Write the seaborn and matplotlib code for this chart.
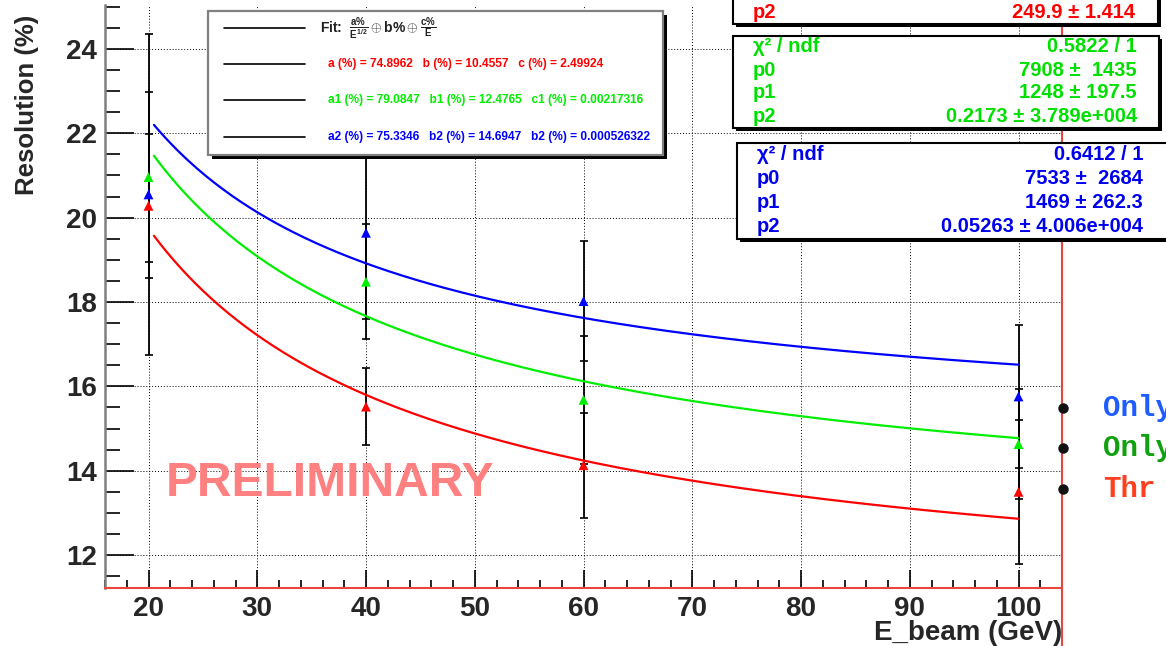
import numpy as np
import pandas as pd
import matplotlib
matplotlib.use("Agg")
import matplotlib.pyplot as plt
import seaborn as sns
from matplotlib.patches import Rectangle
from matplotlib.lines import Line2D
from matplotlib.ticker import MultipleLocator

# ---------------- data ----------------
energies = [20, 40, 60, 100]
series_names = ["red", "green", "blue"]
res_red = [20.28, 15.52, 14.13, 13.50]
err_red = [1.71, 0.92, 1.25, 1.70]
res_green = [20.96, 18.48, 15.68, 14.63]
err_green = [2.02, 1.36, 1.52, 1.30]
res_blue = [20.55, 19.64, 18.02, 15.76]
err_blue = [3.80, 2.05, 1.43, 1.69]

# fit parameters shown in the chart (a%/sqrt(E) (+) b% (+) c%/E)
fit_a = [74.8962, 79.0847, 75.3346]
fit_b = [10.4557, 12.4765, 14.6947]
fit_c = [2.49924, 0.00217316, 0.000526322]
fit_range = [20.5, 100]

x_ticks = [20, 30, 40, 50, 60, 70, 80, 90, 100]
y_ticks = [12, 14, 16, 18, 20, 22, 24]

legend_lines = [
    "a (%) = 74.8962   b (%) = 10.4557   c (%) = 2.49924",
    "a1 (%) = 79.0847   b1 (%) = 12.4765   c1 (%) = 0.00217316",
    "a2 (%) = 75.3346   b2 (%) = 14.6947   b2 (%) = 0.000526322",
]
stat_green = [("\u03c7\u00b2 / ndf", "0.5822 / 1"), ("p0", "7908 \u00b1  1435"),
              ("p1", "1248 \u00b1 197.5"), ("p2", "0.2173 \u00b1 3.789e+004")]
stat_blue = [("\u03c7\u00b2 / ndf", "0.6412 / 1"), ("p0", "7533 \u00b1  2684"),
             ("p1", "1469 \u00b1 262.3"), ("p2", "0.05263 \u00b1 4.006e+004")]
stat_red = [("p2", "249.9 \u00b1 1.414")]
side_labels = ["Only", "Only", "Thr"]

# ---------------- style ----------------
sns.set_theme(style="ticks")
plt.rcParams['font.family'] = ['Liberation Sans', 'DejaVu Sans']
plt.rcParams['mathtext.fontset'] = 'custom'
plt.rcParams['mathtext.rm'] = 'Liberation Sans:bold'
plt.rcParams['mathtext.it'] = 'Liberation Sans:bold'
plt.rcParams['mathtext.bf'] = 'Liberation Sans:bold'

palette = {"red": "#ff0000", "green": "#00ee00", "blue": "#0000ff"}
frame_red = "#e8453c"

W, H = 1166, 646
def fx(x): return x / W
def fy(y): return 1 - y / H

fig = plt.figure(figsize=(W / 100, H / 100), dpi=100)
ax = fig.add_axes([fx(105), fy(588), (1062 - 105) / W, (588 - 5) / H])

# fit curves
E = np.linspace(fit_range[0], fit_range[1], 300)
curve_frames = []
for name, a, b, c in zip(series_names, fit_a, fit_b, fit_c):
    r = np.sqrt((a / np.sqrt(E)) ** 2 + b ** 2 + (c / E) ** 2)
    curve_frames.append(pd.DataFrame({"E": E, "res": r, "series": name}))
curves = pd.concat(curve_frames, ignore_index=True)
sns.lineplot(data=curves, x="E", y="res", hue="series", palette=palette,
             sort=False, lw=1.6, legend=False, ax=ax, zorder=3)

# points with error bars
vals = {"red": (res_red, err_red), "green": (res_green, err_green), "blue": (res_blue, err_blue)}
pts = []
for name in series_names:
    v, e = vals[name]
    ax.errorbar(energies, v, yerr=e, fmt="none", ecolor="black", elinewidth=1.3,
                capsize=3, capthick=1.2, zorder=2)
    pts.append(pd.DataFrame({"E": energies, "res": v, "series": name}))
pts = pd.concat(pts, ignore_index=True)
sns.scatterplot(data=pts, x="E", y="res", hue="series", palette=palette, marker="^",
                s=50, linewidth=0, legend=False, ax=ax, zorder=4)

# axes
ax.set_xlim(16, 104)
ax.set_ylim(11.22, 25.04)
ax.set_xticks(x_ticks)
ax.set_yticks(y_ticks)
ax.xaxis.set_minor_locator(MultipleLocator(2))
ax.yaxis.set_minor_locator(MultipleLocator(0.5))
ax.grid(True, which="major", ls=(0, (1, 2)), color="black", lw=0.7)
ax.set_axisbelow(True)
ax.set_xlabel("")
ax.set_ylabel("")
ax.tick_params(axis="y", which="major", direction="in", length=21, width=1.2,
               color="black", labelsize=20, pad=6)
ax.tick_params(axis="y", which="minor", direction="in", length=11, width=1.2, color="black")
ax.tick_params(axis="x", which="major", direction="in", length=13, width=1.2,
               color="black", labelsize=20, pad=6)
ax.tick_params(axis="x", which="minor", direction="in", length=6, width=1.2, color="black")
for lab in ax.get_xticklabels() + ax.get_yticklabels():
    lab.set_fontweight("bold")
ax.spines["top"].set_visible(False)
ax.spines["left"].set_color("#808080")
ax.spines["left"].set_linewidth(1.8)
ax.spines["bottom"].set_color(frame_red)
ax.spines["bottom"].set_linewidth(1.5)
ax.spines["right"].set_visible(False)

# axis titles
fig.text(fx(27), fy(105), "Resolution (%)", rotation=90, ha="center", va="center",
         fontsize=18.5, fontweight="bold")
fig.text(fx(1062), fy(633), "E_beam (GeV)", ha="right", va="center",
         fontsize=20, fontweight="bold")

# preliminary
fig.text(fx(330), fy(483), "PRELIMINARY", color="#ff8080", fontsize=34.5,
         fontweight="bold", ha="center", va="center")

# red frame line on the right
fig.add_artist(Line2D([fx(1062), fx(1062)], [0, 1], color=frame_red, lw=1.5, zorder=4))

def box(x0, y0, x1, y1, edge, lw, shadow=4):
    fig.add_artist(Rectangle((fx(x0 + shadow), fy(y1 + shadow)), (x1 - x0) / W, (y1 - y0) / H,
                             transform=fig.transFigure, facecolor="black", edgecolor="none", zorder=5))
    fig.add_artist(Rectangle((fx(x0), fy(y1)), (x1 - x0) / W, (y1 - y0) / H,
                             transform=fig.transFigure, facecolor="white", edgecolor=edge,
                             lw=lw, zorder=6))

# legend box
box(208, 11, 663, 155, "#808080", 1.6)
row_y = [28, 64, 100, 137]
for y in row_y:
    fig.add_artist(Line2D([fx(224), fx(305)], [fy(y), fy(y)], color="black", lw=1.2, zorder=7))
fig.text(fx(320), fy(row_y[0] + 1),
         r"Fit:  $\frac{a\%}{E^{1/2}}\oplus b\%\oplus\frac{c\%}{E}$",
         fontsize=10, fontweight="bold", ha="left", va="center", zorder=7, color="#222222")
for y, txt, col in zip(row_y[1:], legend_lines, ["#ff0000", "#00ee00", "#0000ff"]):
    fig.text(fx(328), fy(y), txt, fontsize=8.6, fontweight="bold", color=col,
             ha="left", va="center", zorder=7)

# stat boxes
box(733, -20, 1158, 24, "black", 1.5, shadow=3)
box(733, 36, 1159, 128, "black", 1.5, shadow=3)
box(737, 143, 1180, 239, "black", 1.5, shadow=3)

def stat_rows(rows, ys, xl, xr, col):
    for (lab, val), y in zip(rows, ys):
        fig.text(fx(xl), fy(y), lab, fontsize=14.5, fontweight="bold", color=col,
                 ha="left", va="center", zorder=7)
        fig.text(fx(xr), fy(y), val, fontsize=14.5, fontweight="bold", color=col,
                 ha="right", va="center", zorder=7)

stat_rows(stat_red, [13], 753, 1135, "#ff0000")
stat_rows(stat_green, [47, 70, 93, 116], 753, 1137, "#00e000")
stat_rows(stat_blue, [155, 179, 202, 226], 757, 1143, "#0000ee")

# side legend (cut off by canvas edge, as in the reference)
for y, txt, col in zip([408, 448, 489], side_labels, ["#1e5cff", "#10a010", "#ff4020"]):
    fig.add_artist(Line2D([fx(1063)], [fy(y)], marker="o", ms=6.5, color="#111111",
                          lw=0, zorder=8))
    fig.text(fx(1103), fy(y), txt, fontsize=21, fontweight="bold", color=col,
             family="Liberation Mono", ha="left", va="center", zorder=8)

fig.savefig("out.png", dpi=100)
